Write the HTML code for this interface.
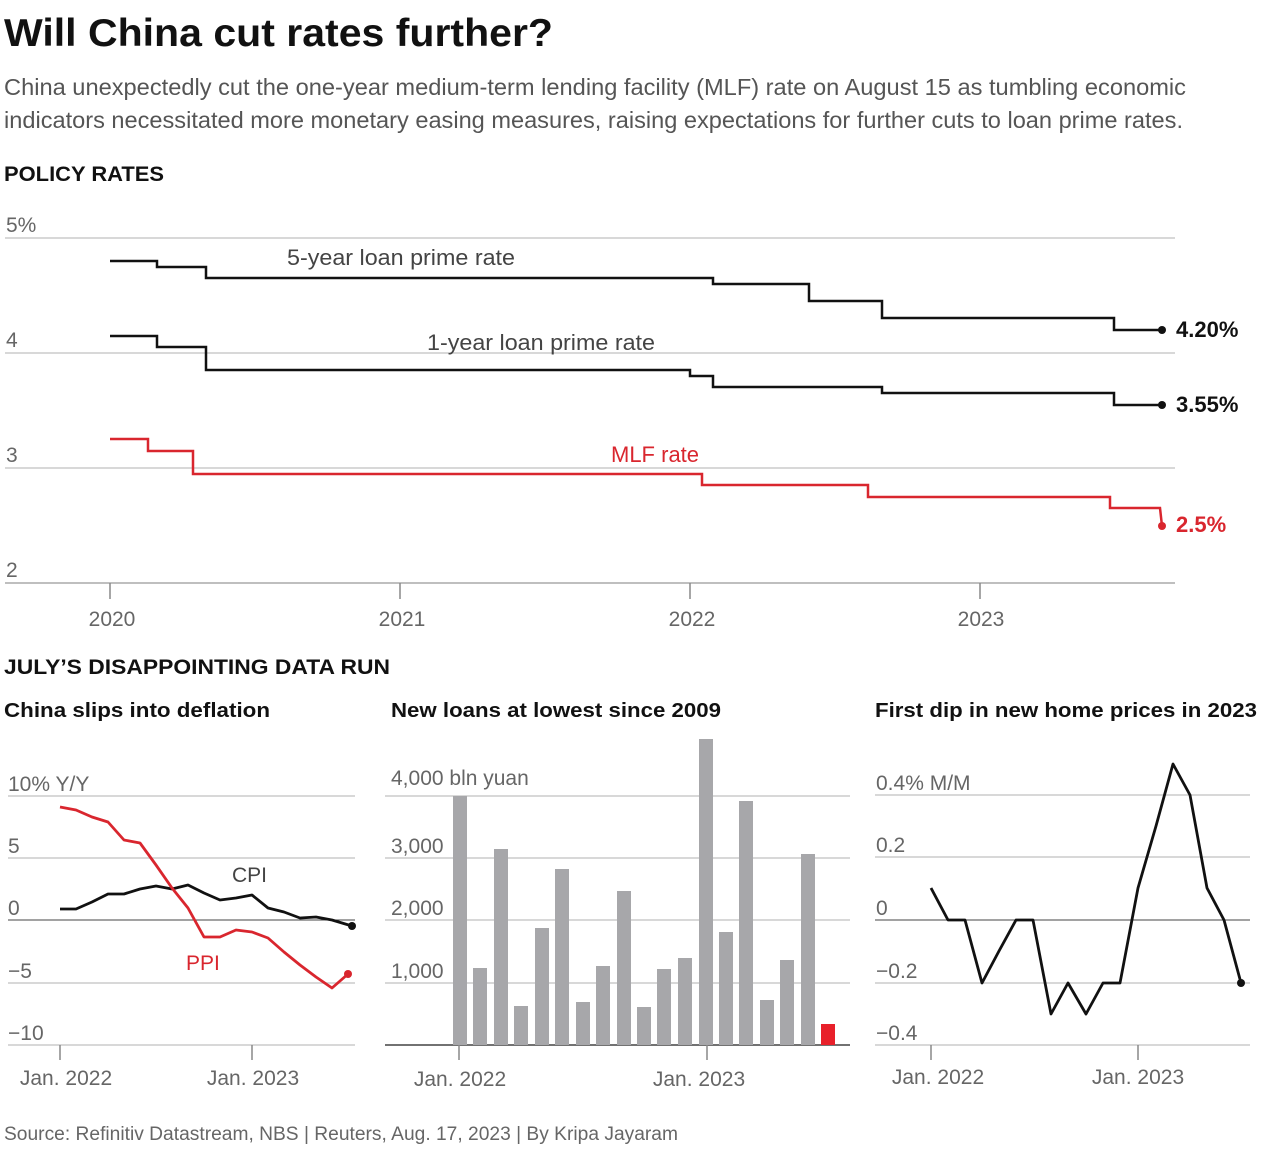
<!DOCTYPE html>
<html><head><meta charset="utf-8"><style>
body{margin:0;background:#fff;width:1268px;height:1151px;overflow:hidden;font-family:"Liberation Sans",sans-serif}
svg text{font-family:"Liberation Sans",sans-serif}
</style></head><body>
<svg width="1268" height="1151" xmlns="http://www.w3.org/2000/svg">
<text x="4" y="46" font-size="39" font-weight="bold" fill="#111" textLength="549" lengthAdjust="spacingAndGlyphs">Will China cut rates further?</text>
<text x="4" y="95" font-size="23" fill="#555" textLength="1182" lengthAdjust="spacingAndGlyphs">China unexpectedly cut the one-year medium-term lending facility (MLF) rate on August 15 as tumbling economic</text>
<text x="4" y="128" font-size="23" fill="#555" textLength="1179" lengthAdjust="spacingAndGlyphs">indicators necessitated more monetary easing measures, raising expectations for further cuts to loan prime rates.</text>
<text x="4" y="181" font-size="21" font-weight="bold" fill="#111" textLength="160" lengthAdjust="spacingAndGlyphs">POLICY RATES</text>
<g stroke="#ccc" stroke-width="1.5">
<line x1="5" y1="238" x2="1175" y2="238"/><line x1="5" y1="353" x2="1175" y2="353"/><line x1="5" y1="468" x2="1175" y2="468"/></g>
<line x1="5" y1="583" x2="1175" y2="583" stroke="#aaa" stroke-width="1.5"/>
<g font-size="21" fill="#666"><text x="6" y="232">5%</text><text x="6" y="347">4</text><text x="6" y="462">3</text><text x="6" y="577">2</text>
<text x="112" y="626" text-anchor="middle">2020</text><text x="402" y="626" text-anchor="middle">2021</text><text x="692" y="626" text-anchor="middle">2022</text><text x="981" y="626" text-anchor="middle">2023</text></g>
<g stroke="#888" stroke-width="1.5"><line x1="110" y1="583" x2="110" y2="599"/><line x1="400" y1="583" x2="400" y2="599"/><line x1="690" y1="583" x2="690" y2="599"/><line x1="980" y1="583" x2="980" y2="599"/></g>
<g fill="none" stroke-width="2.5">
<path stroke="#111" d="M110,261H157V267H206V278H713V284H809V301H882V318H1114V330H1162"/>
<path stroke="#111" d="M110,336H157V347H206V370H690V376H713V387H882V393H1114V405H1162"/>
<path stroke="#d9262e" d="M110,439H148V451H193V474H702V485H868V497H1110V508H1160L1162,526"/></g>
<circle cx="1162" cy="330" r="4" fill="#111"/><circle cx="1162" cy="405" r="4" fill="#111"/><circle cx="1162" cy="526" r="4" fill="#d9262e"/>
<text x="287" y="265" font-size="22" fill="#444" textLength="228" lengthAdjust="spacingAndGlyphs">5-year loan prime rate</text>
<text x="427" y="350" font-size="22" fill="#444" textLength="228" lengthAdjust="spacingAndGlyphs">1-year loan prime rate</text>
<text x="611" y="462" font-size="22" fill="#d9262e">MLF rate</text>
<g font-size="22" font-weight="bold"><text x="1176" y="337" fill="#111">4.20%</text><text x="1176" y="412" fill="#111">3.55%</text><text x="1176" y="532" fill="#d9262e">2.5%</text></g>
<text x="4" y="674" font-size="21" font-weight="bold" fill="#111" textLength="386" lengthAdjust="spacingAndGlyphs">JULY’S DISAPPOINTING DATA RUN</text>
<g font-size="20" font-weight="bold" fill="#111"><text x="4" y="717" textLength="266" lengthAdjust="spacingAndGlyphs">China slips into deflation</text><text x="391" y="717" textLength="330" lengthAdjust="spacingAndGlyphs">New loans at lowest since 2009</text><text x="875" y="717" textLength="382" lengthAdjust="spacingAndGlyphs">First dip in new home prices in 2023</text></g>
<g stroke="#ccc" stroke-width="1.5">
<line x1="8" y1="796" x2="355" y2="796"/><line x1="8" y1="858" x2="355" y2="858"/><line x1="8" y1="983" x2="355" y2="983"/><line x1="8" y1="1045" x2="355" y2="1045"/>
<line x1="385" y1="796" x2="850" y2="796"/><line x1="385" y1="858" x2="850" y2="858"/><line x1="385" y1="920" x2="850" y2="920"/><line x1="385" y1="983" x2="850" y2="983"/>
<line x1="875" y1="795" x2="1250" y2="795"/><line x1="875" y1="857" x2="1250" y2="857"/><line x1="875" y1="983" x2="1250" y2="983"/><line x1="875" y1="1045" x2="1250" y2="1045"/></g>
<line x1="8" y1="920" x2="355" y2="920" stroke="#444" stroke-width="1"/>
<line x1="875" y1="920" x2="1250" y2="920" stroke="#444" stroke-width="1"/>
<line x1="385" y1="1045" x2="850" y2="1045" stroke="#444" stroke-width="1.5"/>
<g font-size="21" fill="#666">
<text x="8" y="791">10% Y/Y</text><text x="8" y="853">5</text><text x="8" y="915">0</text><text x="8" y="978">−5</text><text x="8" y="1040">−10</text>
<text x="66" y="1085" text-anchor="middle">Jan. 2022</text><text x="253" y="1085" text-anchor="middle">Jan. 2023</text>
<text x="391" y="785">4,000 bln yuan</text><text x="391" y="853">3,000</text><text x="391" y="915">2,000</text><text x="391" y="978">1,000</text>
<text x="460" y="1086" text-anchor="middle">Jan. 2022</text><text x="699" y="1086" text-anchor="middle">Jan. 2023</text>
<text x="876" y="790">0.4% M/M</text><text x="876" y="852">0.2</text><text x="876" y="915">0</text><text x="876" y="978">−0.2</text><text x="876" y="1040">−0.4</text>
<text x="938" y="1084" text-anchor="middle">Jan. 2022</text><text x="1138" y="1084" text-anchor="middle">Jan. 2023</text></g>
<g stroke="#888" stroke-width="1.5"><line x1="60" y1="1045" x2="60" y2="1060"/><line x1="252" y1="1045" x2="252" y2="1060"/><line x1="459" y1="1045" x2="459" y2="1060"/><line x1="707" y1="1045" x2="707" y2="1060"/><line x1="931" y1="1045" x2="931" y2="1060"/><line x1="1138" y1="1045" x2="1138" y2="1060"/></g>
<g fill="none" stroke-width="2.8" stroke-linejoin="round">
<path stroke="#111" d="M60,909L76,909L92,902L108,894L124,894L140,889L156,886L172,889L188,885L204,893L220,900L236,898L252,895L268,908L284,912L300,918L316,917L332,920L352,926"/>
<path stroke="#d9262e" d="M60,807L76,810L92,817L108,822L124,840L140,843L156,865L172,888L188,908L204,937L220,937L236,930L252,932L268,938L284,952L300,965L316,977L332,988L348,974"/>
<path stroke="#111" d="M931,888L948,920L965,920L982,983L999,951L1016,920L1033,920L1051,1014L1068,983L1086,1014L1103,983L1120,983L1138,888L1156,826L1173,764L1190,795L1207,888L1224,920L1241,983"/></g>
<circle cx="352" cy="926" r="4" fill="#111"/><circle cx="348" cy="974" r="4" fill="#d9262e"/><circle cx="1241" cy="983" r="4" fill="#111"/>
<text x="232" y="882" font-size="21" fill="#444">CPI</text><text x="186" y="970" font-size="21" fill="#d9262e">PPI</text>
<g fill="#a7a7aa">
<rect x="453" y="796" width="14" height="249"/><rect x="473" y="968" width="14" height="77"/><rect x="494" y="849" width="14" height="196"/><rect x="514" y="1006" width="14" height="39"/><rect x="535" y="928" width="14" height="117"/><rect x="555" y="869" width="14" height="176"/><rect x="576" y="1002" width="14" height="43"/><rect x="596" y="966" width="14" height="79"/><rect x="617" y="891" width="14" height="154"/><rect x="637" y="1007" width="14" height="38"/><rect x="657" y="969" width="14" height="76"/><rect x="678" y="958" width="14" height="87"/><rect x="699" y="739" width="14" height="306"/><rect x="719" y="932" width="14" height="113"/><rect x="739" y="801" width="14" height="244"/><rect x="760" y="1000" width="14" height="45"/><rect x="780" y="960" width="14" height="85"/><rect x="801" y="854" width="14" height="191"/></g>
<rect x="821" y="1024" width="14" height="21" fill="#e8202a"/>
<text x="4" y="1140" font-size="19" fill="#666" textLength="674" lengthAdjust="spacingAndGlyphs">Source: Refinitiv Datastream, NBS | Reuters, Aug. 17, 2023 | By Kripa Jayaram</text>
</svg>
</body></html>
